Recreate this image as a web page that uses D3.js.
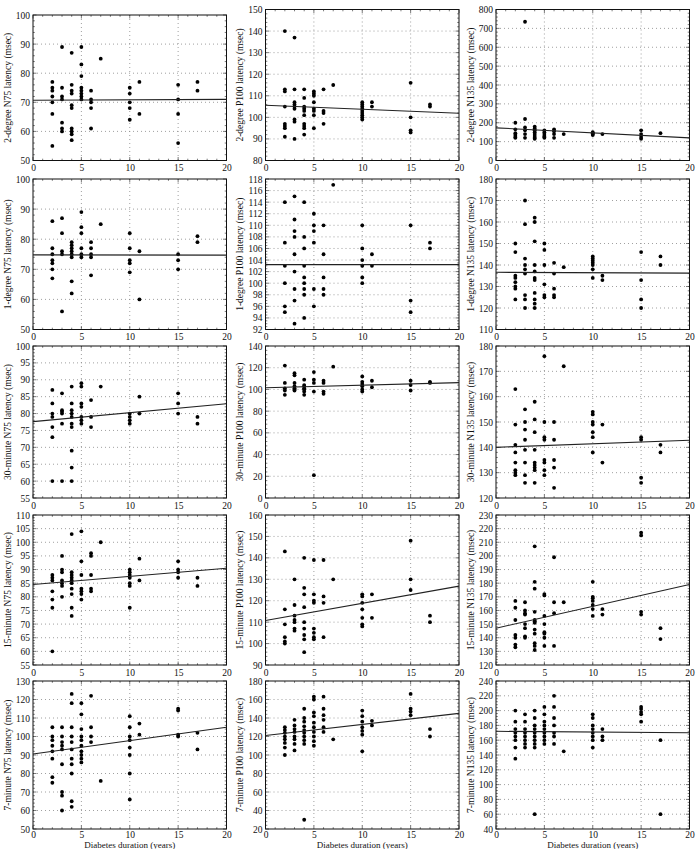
<!DOCTYPE html>
<html><head><meta charset="utf-8">
<script src="https://cdn.jsdelivr.net/npm/d3@7"></script>
<style>body{margin:0;background:#fff} text{font-family:"Liberation Serif","DejaVu Serif",serif;fill:#111}</style>
</head><body><svg id="c" width="699" height="849"></svg>
<script>
const xTicks = [0, 5, 10, 15, 20];
const rowLabels = ["2-degree", "1-degree", "30-minute", "15-minute", "7-minute"];
const colLabels = ["N75", "P100", "N135"];
const xTitle = "Diabetes duration (years)";
const yDomains = [[50,100],[80,150],[0,800],[50,100],[92,118],[110,180],[55,100],[0,140],[120,180],[55,110],[90,160],[120,230],[50,130],[20,180],[40,240]];
const ySteps = [10,10,100,10,2,10,5,20,10,5,10,10,10,20,20];
const fitAt0 = [70.7,105.6,173,74.8,103.2,136.6,77.6,101.5,140,84.5,110.8,147,90.5,121,172];
const fitAt20 = [71.0,101.9,120,74.7,103.2,136.2,82.9,106.3,142.8,90.5,126.8,179,105,145,170];

const deg2N75 = [[2,[77,75,74,72,70,66,55]],[3,[89,75,72,71,63,61,60]],[4,[87,76,74,73,69,68,61,60,59,57]],[5,[89,83,79,75,74,73,72,71]],[6,[74,71,70,68,61]],[7,[85]],[10,[75,73,70,68,64]],[11,[77,66]],[15,[76,71,66,56]],[17,[77,74]]];
const deg2P100 = [[2,[140,113,112,105,97,96,95,91]],[3,[137,113,107,106,105,104,99,98,90]],[4,[113,109,105,104,103,101,97,96,95,92]],[5,[112,111,110,107,104,103,101,95]],[6,[113,103,102,97]],[7,[115]],[10,[107,106,105,104,103,102,101,100,99]],[11,[107,105]],[15,[116,100,94,93]],[17,[106,105]]];
const deg2N135 = [[2,[200,165,145,135,125,120]],[3,[735,220,175,160,140,120]],[4,[180,170,160,150,140,130,120,115]],[5,[160,150,140,130,125,120]],[6,[165,155,140,120]],[7,[140]],[10,[150,145,140,135]],[11,[140]],[15,[160,140,125,115]],[17,[145]]];
const deg1N75 = [[2,[86,77,75,73,72,70,67]],[3,[87,82,76,75,56]],[4,[79,78,77,76,75,74,66,62]],[5,[89,84,82,77,75,74]],[6,[79,77,75,74,68]],[7,[85]],[10,[82,77,73,72,69]],[11,[76,60]],[15,[75,73,70]],[17,[81,79]]];
const deg1P100 = [[2,[114,107,103,100,96,95]],[3,[115,111,109,108,105,102,99,97,93]],[4,[114,108,106,103,101,100,99,98,94]],[5,[112,110,109,107,99,96]],[6,[110,105,101,99,98]],[7,[117]],[10,[110,106,104,103,101,100]],[11,[105,103]],[15,[110,97,95]],[17,[107,106]]];
const deg1N135 = [[2,[150,146,135,134,132,130,129,124]],[3,[170,159,143,140,138,136,126,124,120]],[4,[162,160,151,140,137,134,133,127,124,122,120]],[5,[150,147,140,131,126,125]],[6,[141,136,129,126,125]],[7,[139]],[10,[144,143,142,141,140,138,134]],[11,[135,133]],[15,[146,133,124,120]],[17,[144,140]]];
const min30N75 = [[2,[87,83,80,79,76,73,60]],[3,[86,81,80.5,80,77,60]],[4,[88,83,81,80,79,77,76,69,64,60]],[5,[89,88,83,82,79,78,77]],[6,[84,79,76]],[7,[88]],[10,[80,79,78,77]],[11,[85,80]],[15,[86,83,80]],[17,[79,77]]];
const min30P100 = [[2,[122,106,101,99,95]],[3,[115,113,106,103,101,100,99]],[4,[109,104,103,101,100,98,95]],[5,[116,109,106,98,21]],[6,[108,106,98,96]],[7,[121]],[10,[112,107,105,103,100,98]],[11,[108,102]],[15,[108,104,99]],[17,[107,106]]];
const min30N135 = [[2,[163,149,141,138,134,131,130,129]],[3,[155,150,147,143,139,134,129,126]],[4,[158,151,146,139,134,133,132,131,126]],[5,[176,150,144,143,135,134,131,129]],[6,[150,143,135,132,124]],[7,[172]],[10,[154,153,150,149,146,144,138]],[11,[149,134]],[15,[144,143,128,126]],[17,[141,138]]];
const min15N75 = [[2,[88,87,86,82,79,76,60]],[3,[95,90,89,86,85,84,80]],[4,[103,89,88,87,86,85,83,81,76,73]],[5,[104,93,88,83,82,81,79]],[6,[96,95,88,83,82]],[7,[100]],[10,[90,89,88,87,85,84,76]],[11,[94,86]],[15,[93,90,89,87]],[17,[87,84]]];
const min15P100 = [[2,[143,116,109,103,101,100]],[3,[130,118,113,111,110,107,106]],[4,[140,126,123,117,110,107,104,102,96]],[5,[139,123,120,119,107,105,103,102]],[6,[139,122,119,103]],[7,[130]],[10,[123,122,119,116,112,109,108]],[11,[123,112]],[15,[148,130,125]],[17,[113,110]]];
const min15N135 = [[2,[167,162,153,142,140,135,133]],[3,[166,160,158,157,150,147,141,140]],[4,[207,181,176,159,153,152,151,146,143,136,134,131]],[5,[172,171,156,150,144,143,140,134]],[6,[199,166,158,134]],[7,[166]],[10,[181,170,169,167,164,161,156]],[11,[161,157]],[15,[217,215,159,157]],[17,[147,139]]];
const min7N75 = [[2,[105,100,98,95,92,88,78,75]],[3,[105,100,97,95,93,85,70,68,60]],[4,[123,118,105,100,97,93,88,85,80,65,62]],[5,[118,112,104,100,98,95,92,90,88,86]],[6,[122,105,100,97]],[7,[76]],[10,[111,105,100,98,94,90,80,66]],[11,[107,101]],[15,[115,114,101,100]],[17,[102,93]]];
const min7P100 = [[2,[130,127,124,120,117,113,108,100]],[3,[138,132,128,125,120,117,112,105]],[4,[150,140,136,131,127,124,120,116,112,30]],[5,[163,160,146,142,135,130,125,120,115,110]],[6,[163,150,143,138,130,125]],[7,[117]],[10,[148,142,136,130,126,122,104]],[11,[137,132]],[15,[166,150,147,143]],[17,[128,120]]];
const min7N135 = [[2,[200,185,175,170,165,160,150,135]],[3,[195,185,175,170,165,160,155,150]],[4,[200,190,180,175,170,165,160,155,150,60]],[5,[205,195,185,180,175,170,165,160,155]],[6,[220,205,190,180,170,165,155]],[7,[145]],[10,[195,190,180,175,170,165,160,150]],[11,[175,165,160]],[15,[205,202,198,195,185]],[17,[160,60]]];

const panelData = [deg2N75,deg2P100,deg2N135,deg1N75,deg1P100,deg1N135,min30N75,min30P100,min30N135,min15N75,min15P100,min15N135,min7N75,min7P100,min7N135];

// layout
const colX0 = [33, 265.5, 496];
const plotW = 193.5;
const rowTop = [9.5, 179, 346, 515, 681];
const rowBot = [160.5, 329.5, 498, 665, 829];

const svg = d3.select("#c");
const fs = 9.5;

panelData.forEach((data, i) => {
  const r = Math.floor(i / 3), c = i % 3;
  const top = (i === 0) ? 15 : rowTop[r];
  const bot = rowBot[r];
  const x0 = colX0[c];
  const x = d3.scaleLinear().domain([0, 20]).range([x0, x0 + plotW]);
  const y = d3.scaleLinear().domain(yDomains[i]).range([bot, top]);
  const step = ySteps[i];
  const yt = d3.range(yDomains[i][0], yDomains[i][1] + step / 2, step);
  const g = svg.append("g");

  // grid
  g.selectAll(".gx").data(xTicks.slice(1, -1)).join("line")
    .attr("x1", d => x(d)).attr("x2", d => x(d)).attr("y1", top).attr("y2", bot)
    .attr("stroke", "#888").attr("stroke-width", 0.8).attr("stroke-dasharray", "1,3");
  g.selectAll(".gy").data(yt.slice(1, -1)).join("line")
    .attr("y1", d => y(d)).attr("y2", d => y(d)).attr("x1", x0).attr("x2", x0 + plotW)
    .attr("stroke", "#888").attr("stroke-width", 0.8).attr("stroke-dasharray", "1,3");

  // minor ticks (inward) on all sides
  const xm = d3.range(0, 21, 1);
  const ym = d3.range(yDomains[i][0], yDomains[i][1] + 1e-9, step / (step === 2 ? 4 : 5));
  const tk = g.append("g").attr("stroke", "#222").attr("stroke-width", 0.6);
  xm.forEach(v => {
    const L = (v % 5 === 0) ? 3.5 : 1.8;
    tk.append("line").attr("x1", x(v)).attr("x2", x(v)).attr("y1", bot).attr("y2", bot - L);
    tk.append("line").attr("x1", x(v)).attr("x2", x(v)).attr("y1", top).attr("y2", top + L);
  });
  ym.forEach(v => {
    const isMaj = Math.abs(((v - yDomains[i][0]) / step) - Math.round((v - yDomains[i][0]) / step)) < 1e-6;
    const L = isMaj ? 3.5 : 1.8;
    tk.append("line").attr("y1", y(v)).attr("y2", y(v)).attr("x1", x0).attr("x2", x0 + L);
    tk.append("line").attr("y1", y(v)).attr("y2", y(v)).attr("x1", x0 + plotW).attr("x2", x0 + plotW - L);
  });

  // axes (labels only; frame drawn separately)
  const ax = g.append("g").attr("transform", `translate(0,${bot})`)
    .call(d3.axisBottom(x).tickValues(xTicks).tickSize(0).tickPadding(r === 4 ? 2 : 4).tickFormat(d3.format("d")));
  ax.select(".domain").remove();
  ax.selectAll("text").attr("font-size", fs).attr("font-family", "Liberation Serif, serif").attr("fill", "#111");
  const ay = g.append("g").attr("transform", `translate(${x0},0)`)
    .call(d3.axisLeft(y).tickValues(yt).tickSize(0).tickPadding(3).tickFormat(d3.format("d")));
  ay.select(".domain").remove();
  ay.selectAll("text").attr("font-size", fs).attr("font-family", "Liberation Serif, serif").attr("fill", "#111");

  // frame
  g.append("rect").attr("x", x0).attr("y", top).attr("width", plotW).attr("height", bot - top)
    .attr("fill", "none").attr("stroke", "#111").attr("stroke-width", 1);

  // points
  const pts = [];
  data.forEach(([d, vals]) => vals.forEach(v => pts.push([d, v])));
  g.selectAll("circle").data(pts).join("circle")
    .attr("cx", d => x(d[0])).attr("cy", d => y(d[1])).attr("r", 1.9).attr("fill", "#000");

  // fit line
  g.append("line").attr("x1", x(0)).attr("x2", x(20)).attr("y1", y(fitAt0[i])).attr("y2", y(fitAt20[i]))
    .attr("stroke", "#222").attr("stroke-width", 1.1);

  // y title
  const cx = x0 - 24.5, cy = (top + bot) / 2;
  g.append("text").attr("transform", `translate(${cx},${cy}) rotate(-90)`)
    .attr("text-anchor", "middle").attr("dominant-baseline", "middle").attr("font-size", fs)
    .text(`${rowLabels[r]} ${colLabels[c]} latency (msec)`);

  if (r === 4) {
    g.append("text").attr("x", x0 + plotW / 2).attr("y", 848).attr("text-anchor", "middle")
      .attr("font-size", 9).text(xTitle);
  }
});
</script></body></html>
